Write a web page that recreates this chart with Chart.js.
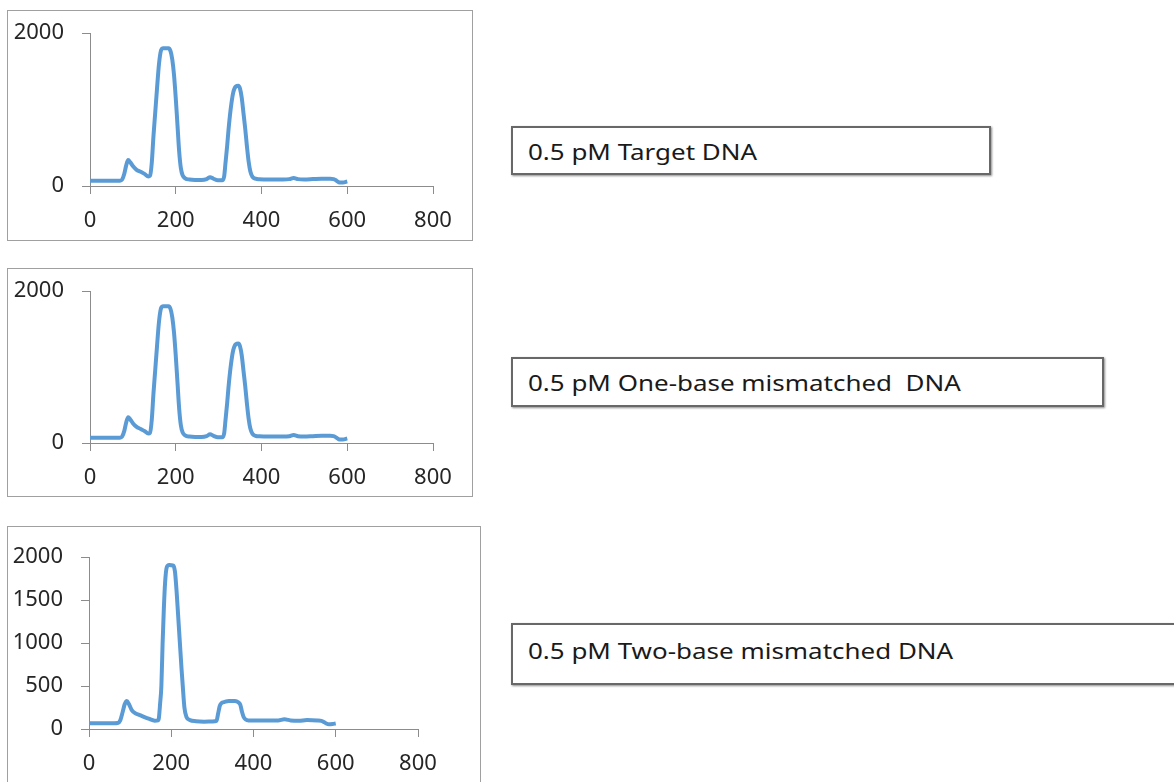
<!DOCTYPE html>
<html>
<head>
<meta charset="utf-8">
<script src="https://cdn.jsdelivr.net/npm/chart.js@4"></script>
<style>
  body { margin: 0; background: #fff; width: 1174px; height: 782px; overflow: hidden; position: relative; font-family: "Noto Sans", sans-serif; }
  .frame { position: absolute; border: 1px solid #a0a0a0; background: #fff; }
  .frame canvas { display: block; }
  .label { position: absolute; border: 2px solid #686868; box-shadow: 1px 1px 2px rgba(0,0,0,0.45); background: #fff; }
  .label span { position: absolute; left: 15px; font-size: 22px; line-height: 22px; color: #1a1a1a; white-space: nowrap; transform: scaleX(1.18); transform-origin: left center; }
</style>
</head>
<body>

<div class="frame" style="left:7px; top:10px;"><canvas id="chartTarget" width="464" height="229"></canvas></div>
<div class="frame" style="left:7px; top:268px;"><canvas id="chartOneBase" width="464" height="227"></canvas></div>
<div class="frame" style="left:7px; top:526px;"><canvas id="chartTwoBase" width="472" height="265"></canvas></div>

<div class="label" style="left:511px; top:126px; width:476px; height:45px;"><span style="top:12px;">0.5 pM Target DNA</span></div>
<div class="label" style="left:511px; top:357px; width:589px; height:46px;"><span style="top:12px;">0.5 pM One-base mismatched&nbsp; DNA</span></div>
<div class="label" style="left:511px; top:623px; width:700px; height:58px;"><span style="top:14px;">0.5 pM Two-base mismatched DNA</span></div>

<script>
// x ticks shared by all three plots
const xTicks = [0, 200, 400, 600, 800];

// 0.5 pM target DNA
const targetX = [0, 20, 40, 60, 70, 75, 80, 84, 89, 94, 100, 108, 118, 128, 136, 140, 144, 148, 152, 156, 161, 166, 170, 183, 188, 192, 196, 200, 204, 208, 212, 216, 222, 232, 245, 260, 272, 280, 288, 298, 308, 313, 316, 320, 323, 328, 334, 340, 346, 350, 354, 358, 362, 366, 370, 374, 379, 386, 395, 420, 450, 465, 475, 485, 500, 520, 540, 560, 568, 575, 582, 590, 600];
const targetY = [70, 70, 70, 70, 70, 85, 160, 260, 340, 310, 260, 215, 185, 155, 125, 135, 300, 650, 950, 1250, 1600, 1780, 1800, 1800, 1760, 1650, 1450, 1150, 800, 450, 230, 140, 100, 85, 80, 80, 90, 115, 95, 75, 75, 130, 300, 530, 730, 1000, 1220, 1300, 1310, 1270, 1150, 950, 750, 520, 320, 190, 120, 95, 88, 85, 85, 90, 105, 90, 85, 90, 95, 95, 90, 70, 45, 45, 60];

// 0.5 pM one-base mismatched DNA
const oneBaseX = [0, 20, 40, 60, 70, 75, 80, 84, 89, 94, 100, 108, 118, 128, 136, 140, 144, 148, 152, 156, 161, 166, 170, 183, 188, 192, 196, 200, 204, 208, 212, 216, 222, 232, 245, 260, 272, 280, 288, 298, 308, 313, 316, 320, 323, 328, 334, 340, 346, 350, 354, 358, 362, 366, 370, 374, 379, 386, 395, 420, 450, 465, 475, 485, 500, 520, 540, 560, 568, 575, 582, 590, 600];
const oneBaseY = [70, 70, 70, 70, 70, 85, 160, 260, 340, 310, 260, 215, 185, 155, 125, 135, 300, 650, 950, 1250, 1600, 1780, 1800, 1800, 1760, 1650, 1450, 1150, 800, 450, 230, 140, 100, 85, 80, 80, 90, 115, 95, 75, 75, 130, 300, 530, 730, 1000, 1220, 1300, 1310, 1270, 1150, 950, 750, 520, 320, 190, 120, 95, 88, 85, 85, 90, 105, 90, 85, 90, 95, 95, 90, 70, 45, 45, 60];

// 0.5 pM two-base mismatched DNA
const twoBaseX = [0, 20, 40, 60, 70, 76, 82, 87, 92, 97, 104, 112, 122, 132, 145, 160, 168, 170, 173, 176, 179, 182, 185, 189, 195, 205, 209, 213, 217, 221, 225, 228, 232, 237, 245, 260, 280, 300, 310, 314, 318, 322, 330, 340, 355, 363, 368, 372, 376, 381, 388, 400, 430, 460, 475, 490, 510, 530, 555, 565, 575, 583, 592, 600];
const twoBaseY = [66, 66, 66, 68, 70, 100, 200, 290, 326, 290, 220, 185, 165, 145, 120, 96, 100, 130, 300, 500, 1000, 1400, 1700, 1880, 1907, 1900, 1830, 1600, 1300, 1000, 700, 500, 250, 140, 105, 90, 85, 88, 95, 180, 270, 300, 315, 326, 326, 310, 280, 200, 140, 110, 100, 100, 100, 100, 112, 100, 95, 105, 100, 95, 70, 55, 58, 65];

const axisGrey = '#8c8c8c';
const tickFont = { family: 'Noto Sans', size: 22 };

function drawTrace(id, xs, ys, yStep, yWidth, xHeight, pad) {
  const pts = xs.map((x, i) => ({ x: x, y: ys[i] }));
  new Chart(document.getElementById(id), {
    type: 'scatter',
    data: {
      datasets: [{
        data: pts,
        showLine: true,
        borderColor: '#5b9bd5',
        borderWidth: 4,
        pointRadius: 0,
        cubicInterpolationMode: 'monotone'
      }]
    },
    options: {
      responsive: false,
      animation: false,
      layout: { padding: pad },
      plugins: { legend: { display: false }, tooltip: { enabled: false } },
      scales: {
        x: {
          type: 'linear', min: 0, max: 800,
          afterBuildTicks: s => { s.ticks = xTicks.map(v => ({ value: v })); },
          afterFit: s => { s.height = xHeight; s.paddingLeft = 0; s.paddingRight = 0; },
          grid: { drawOnChartArea: false, tickLength: 8, color: axisGrey },
          border: { color: axisGrey },
          ticks: { font: tickFont, color: '#262626', padding: 14, maxRotation: 0, callback: v => String(v) }
        },
        y: {
          min: 0, max: 2000,
          ticks: { stepSize: yStep, font: tickFont, color: '#262626', padding: 18, callback: v => String(v) },
          afterFit: s => { s.width = yWidth; s.paddingTop = 0; s.paddingBottom = 0; },
          grid: { drawOnChartArea: false, tickLength: 8, color: axisGrey },
          border: { color: axisGrey }
        }
      }
    }
  });
}

drawTrace('chartTarget', targetX, targetY, 2000, 82, 54, { top: 22, right: 39 });
drawTrace('chartOneBase', oneBaseX, oneBaseY, 2000, 82, 53, { top: 22, right: 39 });
drawTrace('chartTwoBase', twoBaseX, twoBaseY, 500, 81, 63, { top: 30, right: 62 });
</script>
</body>
</html>
